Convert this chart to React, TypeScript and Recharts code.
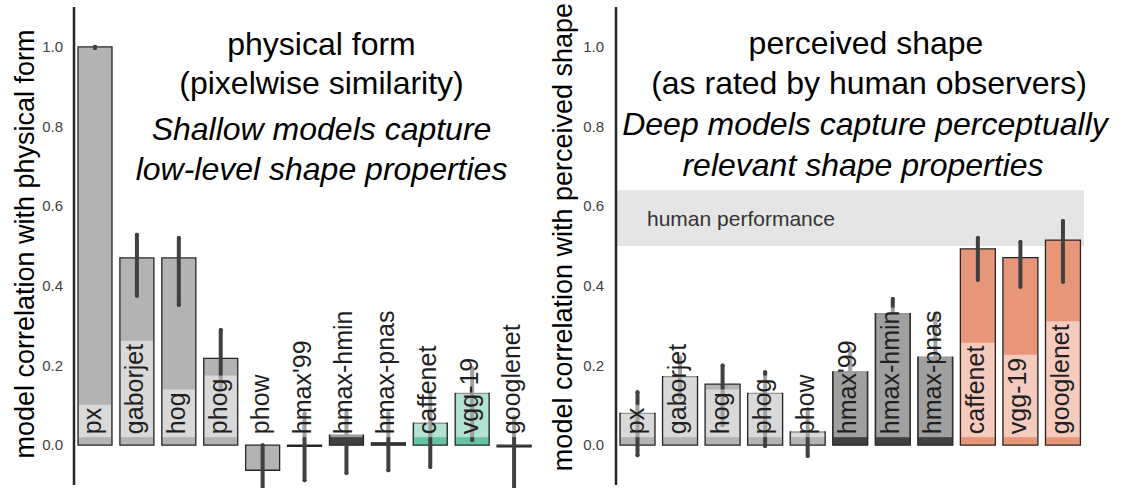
import React from 'react';
import { BarChart, Bar, XAxis, YAxis, Cell, ErrorBar, LabelList, ReferenceArea } from 'recharts';

// ---------- data ----------
const models = ['px', 'gaborjet', 'hog', 'phog', 'phow', "hmax'99", 'hmax-hmin', 'hmax-pnas', 'caffenet', 'vgg-19', 'googlenet'];

const physicalValues = [1.0, 0.47, 0.47, 0.218, -0.063, -0.003, 0.025, 0.006, 0.055, 0.13, -0.004];
const physicalLow = [0.997, 0.375, 0.352, 0.14, -0.11, -0.088, -0.07, -0.063, -0.055, 0.013, -0.11];
const physicalHigh = [1.0, 0.528, 0.52, 0.289, 0.0, 0.08, 0.088, 0.08, 0.13, 0.193, 0.07];

const perceivedValues = [0.08, 0.172, 0.153, 0.13, 0.033, 0.184, 0.33, 0.221, 0.493, 0.471, 0.515];
const perceivedLow = [-0.025, 0.12, 0.05, -0.002, -0.027, 0.13, 0.29, 0.2, 0.415, 0.398, 0.41];
const perceivedHigh = [0.133, 0.22, 0.2, 0.183, 0.09, 0.24, 0.367, 0.33, 0.52, 0.51, 0.563];

const yTicks = [0, 0.2, 0.4, 0.6, 0.8, 1.0];
const yDomain = [-0.1, 1.1];
const humanBand = [0.5, 0.64];

const leftTitle = ['physical form', '(pixelwise similarity)'];
const leftSubtitle = ['Shallow models capture', 'low-level shape properties'];
const rightTitle = ['perceived shape', '(as rated by human observers)'];
const rightSubtitle = ['Deep models capture perceptually', 'relevant shape properties'];
const leftYLabel = 'model correlation with physical form';
const rightYLabel = 'model correlation with perceived shape';
const humanLabel = 'human performance';

// ---------- styles ----------
const FONT = '"Liberation Sans", Arial, Helvetica, sans-serif';
const GREY = '#b3b3b3';
const DARK = '#404040';
const GREEN = '#66c2a5';
const SALMON = '#e8967a';
const physicalColors = [GREY, GREY, GREY, GREY, GREY, DARK, DARK, DARK, GREEN, GREEN, GREEN];
const perceivedColors = [GREY, GREY, GREY, GREY, GREY, DARK, DARK, DARK, SALMON, SALMON, SALMON];

function buildData(values: number[], low: number[], high: number[]) {
  return models.map((name, i) => ({
    name,
    value: values[i],
    err: [values[i] - low[i], high[i] - values[i]],
  }));
}

const physicalData = buildData(physicalValues, physicalLow, physicalHigh);
const perceivedData = buildData(perceivedValues, perceivedLow, perceivedHigh);

let ctx: CanvasRenderingContext2D | null = null;
function textLen(s: string, size: number) {
  if (!ctx && typeof document !== 'undefined') {
    ctx = document.createElement('canvas').getContext('2d');
  }
  if (ctx) {
    ctx.font = `${size}px "Liberation Sans", Arial, sans-serif`;
    return ctx.measureText(s).width;
  }
  return s.length * size * 0.5;
}

const LABEL_SIZE = 25;

function makeLabel(values: number[]) {
  return (props: any) => {
    const vb = props.viewBox && props.viewBox.width != null ? props.viewBox : props;
    const x = Number(vb.x);
    const y = Number(vb.y);
    const w = Number(vb.width);
    const h = Number(vb.height);
    const idx = props.index;
    const v = values[idx];
    const name = models[idx];
    const zero = v >= 0 ? Math.max(y, y + h) : Math.min(y, y + h);
    const bottom = zero - 8;
    const len = textLen(name, LABEL_SIZE);
    const boxH = len + 6;
    const cx = x + w / 2;
    return (
      <g>
        <rect x={x + 1} y={bottom - boxH} width={w - 2} height={boxH} fill="#ffffff" fillOpacity={0.5} />
        <text
          transform={`translate(${cx + 6},${bottom - 3}) rotate(-90)`}
          fontSize={LABEL_SIZE}
          fontFamily={FONT}
          fill="#1f1f1f"
          textAnchor="start"
        >
          {name}
        </text>
      </g>
    );
  };
}

const axisLineStyle = { stroke: '#262626', strokeWidth: 2.5 };

function Panel(props: {
  data: any[];
  values: number[];
  colors: string[];
  left: number;
  width: number;
  yAxisWidth: number;
  marginRight: number;
  barSize: number;
  tickMargin: number;
  band?: boolean;
}) {
  const { data, values, colors, left, width, yAxisWidth, marginRight, barSize, tickMargin, band } = props;
  return (
    <div style={{ position: 'absolute', left, top: 0, width, height: 488 }}>
      <BarChart
        width={width}
        height={488}
        data={data}
        margin={{ top: 7, right: marginRight, bottom: 3, left: 0 }}
        style={{ fontFamily: FONT }}
      >
        <XAxis dataKey="name" tick={false} tickLine={false} axisLine={axisLineStyle} height={0} />
        <YAxis
          type="number"
          domain={yDomain}
          ticks={yTicks}
          allowDataOverflow
          tickFormatter={(v: number) => v.toFixed(1)}
          axisLine={axisLineStyle}
          tickLine={false}
          tickMargin={tickMargin}
          width={yAxisWidth}
          tick={{ fontSize: 15, fill: '#404040', fontFamily: FONT }}
        />
        {band ? (
          <ReferenceArea
            y1={humanBand[0]}
            y2={humanBand[1]}
            fill="#e5e5e5"
            fillOpacity={1}
            stroke="none"
            label={{ value: humanLabel, position: 'insideLeft', offset: 31, fontSize: 21, fill: '#333333', fontFamily: FONT }}
          />
        ) : null}
        <Bar dataKey="value" barSize={barSize} stroke="#262626" strokeWidth={1.3} isAnimationActive={false}>
          {data.map((d, i) => (
            <Cell key={d.name} fill={colors[i]} />
          ))}
          <ErrorBar dataKey="err" direction="y" width={0} stroke="#404040" strokeWidth={4} strokeLinecap="round" isAnimationActive={false} />
          <LabelList dataKey="name" content={makeLabel(values)} />
        </Bar>
      </BarChart>
    </div>
  );
}

function Titles() {
  const titleSize = 32;
  return (
    <svg
      width={1128}
      height={488}
      style={{ position: 'absolute', left: 0, top: 0, pointerEvents: 'none' }}
      fontFamily={FONT}
    >
      <text x={321.5} y={55} fontSize={titleSize} textAnchor="middle" fill="#000">{leftTitle[0]}</text>
      <text x={321.5} y={94} fontSize={titleSize} textAnchor="middle" fill="#000">{leftTitle[1]}</text>
      <text x={321.5} y={140} fontSize={titleSize} fontStyle="italic" textAnchor="middle" fill="#000">{leftSubtitle[0]}</text>
      <text x={321.5} y={180} fontSize={titleSize} fontStyle="italic" textAnchor="middle" fill="#000">{leftSubtitle[1]}</text>

      <text x={866} y={54} fontSize={titleSize} textAnchor="middle" fill="#000">{rightTitle[0]}</text>
      <text x={869} y={94} fontSize={titleSize} textAnchor="middle" fill="#000">{rightTitle[1]}</text>
      <text x={865} y={135} fontSize={titleSize} fontStyle="italic" textAnchor="middle" fill="#000">{rightSubtitle[0]}</text>
      <text x={863} y={176} fontSize={titleSize} fontStyle="italic" textAnchor="middle" fill="#000">{rightSubtitle[1]}</text>

      <text transform="translate(34,244) rotate(-90)" fontSize={27} textAnchor="middle" fill="#000">{leftYLabel}</text>
      <text transform="translate(572,237) rotate(-90)" fontSize={27} textAnchor="middle" fill="#000">{rightYLabel}</text>
    </svg>
  );
}

export default function App() {
  return (
    <div style={{ position: 'absolute', left: 0, top: 0, width: 1128, height: 488, background: '#fff', overflow: 'hidden' }}>
      <Panel
        data={physicalData}
        values={physicalValues}
        colors={physicalColors}
        left={0}
        width={560}
        yAxisWidth={74}
        marginRight={25}
        barSize={34}
        tickMargin={5}
      />
      <Panel
        data={perceivedData}
        values={perceivedValues}
        colors={perceivedColors}
        left={520}
        width={608}
        yAxisWidth={96}
        marginRight={44}
        barSize={35}
        tickMargin={6}
        band
      />
      <Titles />
    </div>
  );
}
